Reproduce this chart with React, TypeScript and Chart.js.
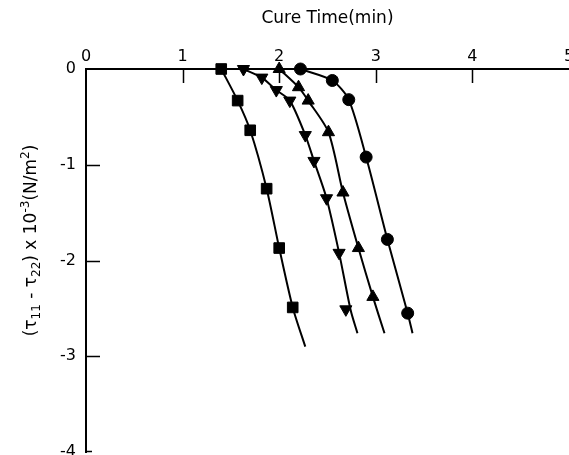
import React, { useEffect, useRef } from "react";
import { Chart, registerables } from "chart.js";

Chart.register(...registerables);

// Measured points: cure time (min) and normal stress difference (x10^-3 N/m^2)
const squareX = [1.40, 1.57, 1.70, 1.87, 2.00, 2.14];
const squareY = [0, -0.33, -0.64, -1.25, -1.87, -2.49];
const downX = [1.63, 1.82, 1.97, 2.11, 2.27, 2.36, 2.49, 2.62, 2.69];
const downY = [0, -0.09, -0.22, -0.33, -0.69, -0.96, -1.35, -1.92, -2.51];
const upX = [2.00, 2.20, 2.30, 2.51, 2.66, 2.82, 2.97];
const upY = [0, -0.19, -0.33, -0.66, -1.29, -1.87, -2.38];
const circleX = [2.22, 2.55, 2.72, 2.90, 3.12, 3.33];
const circleY = [0, -0.12, -0.32, -0.92, -1.78, -2.55];

// Hand-drawn fitted curves through the points
const squareLineX = [1.40, 1.57, 1.70, 1.87, 2.00, 2.14, 2.27];
const squareLineY = [0, -0.33, -0.64, -1.25, -1.87, -2.49, -2.90];
const downLineX = [1.63, 1.82, 1.97, 2.11, 2.27, 2.36, 2.49, 2.62, 2.74, 2.81];
const downLineY = [0, -0.09, -0.22, -0.33, -0.69, -0.96, -1.35, -1.92, -2.52, -2.76];
const upLineX = [2.00, 2.20, 2.30, 2.51, 2.66, 2.82, 2.97, 3.09];
const upLineY = [0, -0.19, -0.33, -0.66, -1.29, -1.87, -2.38, -2.76];
const circleLineX = [2.22, 2.55, 2.72, 2.90, 3.12, 3.33, 3.38];
const circleLineY = [0, -0.12, -0.32, -0.92, -1.78, -2.55, -2.76];

const xTicks = [0, 1, 2, 3, 4, 5];
const yTicks = [0, -1, -2, -3, -4];
const xInnerTicks = [1, 2, 3, 4];
const yInnerTicks = [-1, -2, -3];

const xTitle = "Cure Time(min)";
// y title pieces: [text, mode] where mode 0 = normal, 1 = subscript, 2 = superscript
const yTitleParts: [string, number][] = [
  ["(τ", 0],
  ["11", 1],
  [" - τ", 0],
  ["22", 1],
  [") x 10", 0],
  ["-3", 2],
  ["(N/m", 0],
  ["2", 2],
  [")", 0],
];

const FONT = "'DejaVu Sans', sans-serif";

function lineSet(xs: number[], ys: number[]) {
  return {
    data: xs.map((x, i) => ({ x, y: ys[i] })),
    borderColor: "#000",
    borderWidth: 2,
    pointRadius: 0,
    showLine: true,
    tension: 0.25,
    clip: false,
  };
}

function markerSet(xs: number[], ys: number[], style: string, radius: number, rotation: number) {
  return {
    data: xs.map((x, i) => ({ x, y: ys[i] })),
    borderColor: "#000",
    backgroundColor: "#000",
    pointStyle: style,
    pointRotation: rotation,
    pointRadius: radius,
    pointBorderWidth: 1,
    showLine: false,
    clip: false,
  };
}

const innerTicksPlugin = {
  id: "innerTicks",
  afterDraw(chart: any) {
    const { ctx, chartArea, scales } = chart;
    const x = scales.x;
    const y = scales.y;
    ctx.save();
    ctx.strokeStyle = "#000";
    ctx.lineWidth = 1.5;
    ctx.beginPath();
    xInnerTicks.forEach((v) => {
      const px = Math.round(x.getPixelForValue(v)) + 0.5;
      ctx.moveTo(px, chartArea.top);
      ctx.lineTo(px, chartArea.top + 14);
    });
    yInnerTicks.forEach((v) => {
      const py = Math.round(y.getPixelForValue(v)) + 0.5;
      ctx.moveTo(chartArea.left, py);
      ctx.lineTo(chartArea.left + 14, py);
    });
    const pb = Math.round(y.getPixelForValue(-4)) - 0.5;
    ctx.moveTo(chartArea.left, pb);
    ctx.lineTo(chartArea.left + 6, pb);
    ctx.stroke();

    // rotated y-axis title with real sub/superscripts
    const big = 17;
    const small = 12;
    const pieces = yTitleParts.map(([t, m]) => {
      ctx.font = `${m === 0 ? big : small}px ${FONT}`;
      return { t, m, w: ctx.measureText(t).width };
    });
    const total = pieces.reduce((a, p) => a + p.w, 0);
    const cx = 30;
    const cy = (chartArea.top + chartArea.bottom) / 2 - 20;
    ctx.translate(cx, cy);
    ctx.rotate(-Math.PI / 2);
    ctx.fillStyle = "#000";
    ctx.textBaseline = "alphabetic";
    ctx.textAlign = "left";
    let pos = -total / 2;
    const base = 6;
    pieces.forEach((p) => {
      ctx.font = `${p.m === 0 ? big : small}px ${FONT}`;
      const dy = p.m === 1 ? 4 : p.m === 2 ? -7 : 0;
      ctx.fillText(p.t, pos, base + dy);
      pos += p.w;
    });
    ctx.restore();
  },
};

export default function App() {
  const ref = useRef<HTMLCanvasElement | null>(null);

  useEffect(() => {
    if (!ref.current) return;
    const chart = new Chart(ref.current, {
      type: "scatter",
      data: {
        datasets: [
          lineSet(squareLineX, squareLineY),
          lineSet(downLineX, downLineY),
          lineSet(upLineX, upLineY),
          lineSet(circleLineX, circleLineY),
          markerSet(squareX, squareY, "rect", 7.5, 0),
          markerSet(downX, downY, "triangle", 7, 180),
          markerSet(upX, upY, "triangle", 7, 0),
          markerSet(circleX, circleY, "circle", 6, 0),
        ] as any,
      },
      options: {
        responsive: false,
        animation: false,
        events: [],
        layout: { autoPadding: false, padding: { top: 0, left: 0, right: 0, bottom: 3 } } as any,
        plugins: { legend: { display: false }, tooltip: { enabled: false } },
        scales: {
          x: {
            type: "linear",
            position: "top",
            min: 0,
            max: 5,
            afterFit: (s: any) => {
              s.height = 69;
              s.paddingLeft = 0;
              s.paddingRight = 0;
            },
            afterBuildTicks: (s: any) => {
              s.ticks = xTicks.map((v) => ({ value: v }));
            },
            grid: { display: false, drawTicks: false },
            border: { display: true, color: "#000", width: 2 },
            ticks: {
              padding: 3,
              color: "#000",
              font: { family: FONT, size: 16 },
              callback: (v: any) => String(v),
            },
            title: {
              display: true,
              text: xTitle,
              color: "#000",
              font: { family: FONT, size: 17 },
              padding: { top: 8, bottom: 0 },
            },
          },
          y: {
            type: "linear",
            position: "left",
            min: -4,
            max: 0,
            afterFit: (s: any) => {
              s.width = 86;
              s.paddingTop = 0;
              s.paddingBottom = 0;
            },
            afterBuildTicks: (s: any) => {
              s.ticks = yTicks.map((v) => ({ value: v }));
            },
            grid: { display: false, drawTicks: false },
            border: { display: true, color: "#000", width: 2 },
            ticks: {
              padding: 10,
              color: "#000",
              font: { family: FONT, size: 16 },
              callback: (v: any) => String(v),
            },
          },
        },
      } as any,
      plugins: [innerTicksPlugin],
    });
    return () => chart.destroy();
  }, []);

  return (
    <div style={{ position: "fixed", left: 0, top: 0, width: 569, height: 455, background: "#fff" }}>
      <canvas ref={ref} width={569} height={455} style={{ display: "block" }} />
    </div>
  );
}
